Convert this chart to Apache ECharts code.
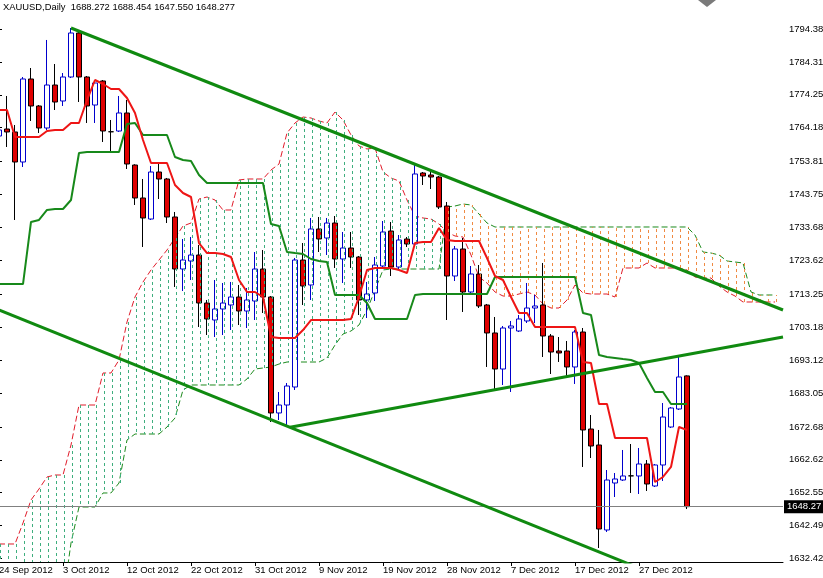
<!DOCTYPE html>
<html><head><meta charset="utf-8">
<script src="https://cdn.jsdelivr.net/npm/echarts@6/dist/echarts.min.js"></script>
<style>html,body{margin:0;padding:0;background:#fff}#c{width:823px;height:578px}</style>
</head><body><div id="c"></div>
<script>
const dates = ['24 Sep 2012','25 Sep 2012','26 Sep 2012','27 Sep 2012','28 Sep 2012','30 Sep 2012','1 Oct 2012','2 Oct 2012','3 Oct 2012','4 Oct 2012','5 Oct 2012','7 Oct 2012','8 Oct 2012','9 Oct 2012','10 Oct 2012','11 Oct 2012','12 Oct 2012','14 Oct 2012','15 Oct 2012','16 Oct 2012','17 Oct 2012','18 Oct 2012','19 Oct 2012','21 Oct 2012','22 Oct 2012','23 Oct 2012','24 Oct 2012','25 Oct 2012','26 Oct 2012','28 Oct 2012','29 Oct 2012','30 Oct 2012','31 Oct 2012','1 Nov 2012','2 Nov 2012','4 Nov 2012','5 Nov 2012','6 Nov 2012','7 Nov 2012','8 Nov 2012','9 Nov 2012','11 Nov 2012','12 Nov 2012','13 Nov 2012','14 Nov 2012','15 Nov 2012','16 Nov 2012','18 Nov 2012','19 Nov 2012','20 Nov 2012','21 Nov 2012','22 Nov 2012','23 Nov 2012','25 Nov 2012','26 Nov 2012','27 Nov 2012','28 Nov 2012','29 Nov 2012','30 Nov 2012','2 Dec 2012','3 Dec 2012','4 Dec 2012','5 Dec 2012','6 Dec 2012','7 Dec 2012','9 Dec 2012','10 Dec 2012','11 Dec 2012','12 Dec 2012','13 Dec 2012','14 Dec 2012','16 Dec 2012','17 Dec 2012','18 Dec 2012','19 Dec 2012','20 Dec 2012','21 Dec 2012','23 Dec 2012','24 Dec 2012','26 Dec 2012','27 Dec 2012','28 Dec 2012','30 Dec 2012','31 Dec 2012','1 Jan 2013','2 Jan 2013','3 Jan 2013'];
const futureSlots = ['','','','','','','','','','','',''];

const open  = [1761.65,1763.79,1762.88,1753.70,1779.09,1770.83,1764.10,1777.25,1772.36,1779.70,1793.16,1779.70,1771.13,1778.48,1762.95,1763.18,1768.69,1752.78,1742.69,1736.26,1750.64,1748.50,1736.88,1720.97,1723.42,1725.25,1710.57,1705.37,1708.74,1709.96,1712.41,1708.12,1711.18,1720.97,1712.41,1676.93,1679.37,1684.88,1723.72,1716.08,1733.21,1730.45,1735.04,1724.03,1727.39,1724.64,1711.49,1713.63,1721.89,1732.59,1721.58,1730.15,1728.62,1750.33,1749.72,1749.11,1740.24,1718.83,1727.09,1713.94,1719.44,1709.96,1701.40,1690.38,1702.92,1702.01,1705.07,1709.04,1709.96,1700.48,1695.89,1695.89,1691.00,1701.70,1672.03,1667.14,1641.14,1655.51,1656.43,1657.70,1657.66,1661.33,1654.60,1661.02,1672.64,1678.15,1688.272];
const high  = [1764.41,1773.89,1765.02,1779.70,1782.45,1771.13,1791.02,1783.67,1780.92,1794.69,1793.46,1780.00,1778.78,1778.78,1766.55,1773.89,1772.66,1753.00,1748.50,1752.48,1753.09,1748.81,1738.41,1730.15,1730.76,1728.31,1711.49,1717.61,1716.69,1717.00,1716.08,1715.16,1726.17,1726.78,1712.71,1683.35,1686.10,1724.34,1728.92,1736.57,1736.88,1736.57,1737.18,1732.29,1732.29,1724.95,1717.00,1724.64,1735.65,1735.35,1731.37,1730.76,1753.39,1750.64,1750.95,1749.42,1741.46,1728.01,1730.45,1721.89,1722.19,1710.27,1706.29,1703.54,1705.07,1706.90,1716.69,1713.02,1722.81,1701.09,1700.17,1698.95,1702.31,1702.92,1676.31,1671.73,1659.49,1658.57,1665.61,1667.44,1666.22,1662.55,1661.33,1679.98,1678.76,1694.36,1688.454];
const low   = [1760.73,1758.29,1735.96,1752.17,1766.24,1762.57,1763.49,1769.60,1770.83,1779.39,1772.05,1765.63,1765.63,1759.82,1756.45,1762.88,1751.56,1740.55,1727.70,1735.96,1742.38,1735.04,1715.47,1714.24,1717.61,1703.23,1700.78,1700.17,1700.78,1702.31,1703.84,1702.92,1705.37,1707.51,1674.17,1674.78,1672.64,1683.96,1709.96,1711.49,1726.17,1725.25,1721.28,1716.69,1721.28,1706.90,1705.98,1711.18,1721.58,1718.83,1720.67,1727.70,1728.31,1746.66,1745.44,1739.32,1705.37,1717.30,1707.82,1713.32,1709.04,1691.00,1684.27,1685.49,1683.35,1701.70,1704.45,1704.45,1694.05,1688.85,1692.53,1687.94,1685.80,1660.41,1663.16,1635.63,1640.53,1651.23,1656.13,1652.46,1652.15,1653.07,1654.29,1656.13,1672.34,1677.84,1647.550];
const close = [1763.49,1762.88,1753.70,1779.09,1770.83,1764.10,1777.25,1772.05,1779.70,1793.16,1779.70,1770.83,1777.86,1763.18,1762.95,1768.69,1753.09,1742.69,1736.57,1750.64,1748.50,1736.88,1720.97,1723.72,1725.25,1710.57,1705.68,1708.74,1710.57,1712.41,1708.12,1711.49,1720.97,1712.41,1676.93,1679.37,1685.18,1723.72,1715.77,1733.21,1730.15,1735.04,1724.03,1727.39,1724.64,1711.49,1713.32,1722.19,1732.29,1721.58,1729.84,1728.62,1750.03,1749.42,1749.11,1739.93,1718.83,1727.09,1713.94,1719.44,1709.65,1701.40,1690.38,1702.92,1703.54,1705.68,1709.04,1709.65,1700.48,1695.58,1695.28,1691.00,1701.70,1671.73,1666.83,1641.44,1656.43,1656.74,1657.66,1657.70,1661.33,1655.21,1661.02,1675.70,1678.45,1687.94,1648.277];

const tenkan = [1769.60,1769.60,1761.35,1761.35,1761.35,1761.35,1763.18,1763.49,1763.49,1765.63,1765.63,1772.66,1778.78,1777.56,1776.03,1776.03,1773.27,1768.69,1760.43,1753.39,1753.39,1753.39,1746.66,1744.22,1742.99,1728.92,1725.86,1725.86,1725.56,1724.64,1717.61,1713.94,1713.94,1712.41,1700.17,1699.87,1699.87,1699.87,1702.31,1705.37,1705.37,1705.37,1705.37,1705.37,1705.68,1712.41,1720.67,1721.28,1721.28,1721.28,1720.67,1719.75,1728.92,1729.23,1729.23,1733.51,1729.84,1729.54,1729.54,1729.54,1729.54,1724.34,1718.83,1717.61,1712.41,1707.51,1707.51,1703.23,1703.23,1703.23,1703.23,1703.23,1703.23,1692.52,1692.22,1679.68,1679.68,1669.28,1669.28,1669.28,1669.28,1669.28,1655.82,1657.35,1660.41,1672.64,1671.73];
const kijun = [1716.38,1716.38,1716.38,1716.38,1735.35,1735.96,1739.02,1739.32,1739.32,1742.08,1756.45,1756.76,1756.76,1756.76,1756.76,1756.76,1765.32,1765.63,1761.96,1761.96,1761.96,1761.96,1755.23,1754.31,1754.00,1749.72,1747.28,1747.28,1747.28,1747.28,1747.28,1747.28,1747.28,1747.28,1734.74,1734.12,1726.17,1725.86,1725.56,1724.03,1723.42,1723.11,1713.02,1713.02,1713.02,1713.02,1710.57,1705.68,1705.68,1705.68,1705.68,1705.68,1713.02,1713.32,1713.32,1713.32,1713.32,1713.32,1713.32,1713.32,1713.32,1713.32,1718.52,1718.52,1718.52,1718.52,1718.52,1718.52,1718.52,1718.52,1718.52,1718.52,1718.52,1707.51,1706.90,1694.67,1694.05,1693.75,1693.44,1693.14,1692.22,1687.63,1683.35,1683.35,1679.68,1679.68,1679.68];
const spanA = [1636.86,1636.86,1636.86,1643.28,1650.31,1653.68,1657.35,1657.96,1657.96,1667.14,1679.37,1679.37,1679.37,1689.16,1689.16,1693.14,1704.76,1712.41,1716.99,1720.67,1723.72,1726.78,1730.45,1734.12,1735.04,1742.38,1742.99,1742.08,1739.02,1739.02,1748.19,1748.50,1748.50,1748.50,1751.25,1753.09,1762.57,1765.63,1767.46,1767.16,1766.24,1765.63,1768.99,1766.55,1761.96,1758.59,1757.68,1757.98,1750.64,1748.81,1747.89,1742.08,1737.18,1736.57,1736.26,1734.74,1732.29,1731.06,1730.76,1725.25,1718.52,1716.69,1713.94,1712.71,1712.71,1713.32,1713.94,1713.02,1710.27,1709.04,1709.04,1711.49,1716.08,1713.63,1713.32,1713.32,1713.32,1712.41,1721.28,1721.28,1721.28,1722.81,1721.28,1721.28,1721.28,1721.28,1720.67,1718.52,1718.22,1718.22,1715.77,1713.94,1712.71,1710.88,1710.88,1710.88,1710.88,1710.88];
const spanB = [1619.73,1619.73,1619.73,1619.73,1619.73,1619.73,1619.73,1619.73,1619.73,1637.16,1648.17,1648.17,1648.17,1652.46,1652.46,1655.51,1668.67,1670.50,1670.50,1670.50,1670.50,1672.64,1675.40,1683.96,1685.49,1685.49,1685.49,1685.49,1685.49,1685.49,1685.49,1687.33,1690.38,1690.69,1691.00,1691.91,1692.52,1692.52,1692.52,1692.52,1692.52,1693.75,1697.72,1701.09,1702.01,1703.84,1708.43,1714.55,1720.67,1720.97,1720.97,1720.97,1720.97,1720.97,1720.97,1720.97,1739.93,1740.24,1740.85,1740.55,1737.79,1735.04,1733.82,1733.82,1733.82,1733.82,1733.82,1733.82,1733.82,1733.82,1733.82,1733.82,1733.82,1733.82,1733.82,1733.82,1733.82,1733.82,1733.82,1733.82,1733.82,1733.82,1733.82,1733.82,1733.82,1733.82,1733.82,1731.37,1726.17,1725.86,1725.25,1723.42,1723.11,1722.81,1713.94,1713.02,1713.02,1713.02];

const yTicks = [1632.42,1642.49,1652.55,1662.62,1672.68,1683.05,1693.12,1703.18,1713.25,1723.62,1733.68,1743.75,1753.81,1764.18,1774.25,1784.31,1794.38];
const trendUpper  = [[9, 1794.69], [98, 1708.43]];
const trendLower  = [[0, 1708.43], [80, 1629.50]];
const trendRising = [[36.375, 1672.55], [98, 1700.17]];
const lastPrice = 1648.277;
const lastPriceLabel = '1648.27';
const titleText = 'XAUUSD,Daily  1688.272 1688.454 1647.550 1648.277';

const FONT = 'Liberation Sans';
const categories = dates.concat(futureSlots);
const candleData = dates.map((d, i) => [open[i], close[i], low[i], high[i]]);
const cloudData = spanA.map((a, i) => [i, a, spanB[i]]);
const showIdx = (i) => i % 8 === 0 && i < dates.length;

const chart = echarts.init(document.getElementById('c'), null, {renderer: 'canvas'});
chart.setOption({
  animation: false,
  backgroundColor: '#fff',
  title: {text: titleText, left: 3, top: 3, padding: 0,
    textStyle: {fontSize: 9.4, fontWeight: 'normal', color: '#000', fontFamily: FONT}},
  grid: {left: -1, right: 40, top: 0, bottom: 16, containLabel: false, outerBoundsMode: 'none'},
  xAxis: [{
    type: 'category', data: categories, boundaryGap: false,
    axisLine: {show: true, lineStyle: {color: '#000', width: 1}},
    axisTick: {show: true, interval: showIdx, length: 4, lineStyle: {color: '#000'}},
    axisLabel: {interval: showIdx, align: 'left', margin: 3, color: '#000', fontSize: 9.5, fontFamily: FONT, hideOverlap: false},
    splitLine: {show: false}
  }, {
    type: 'value', min: 0, max: 98, show: false
  }],
  yAxis: {
    type: 'value', position: 'right', min: 1631.35, max: 1803.25,
    axisLine: {show: true, lineStyle: {color: '#000', width: 1}},
    axisTick: {show: true, length: 3, customValues: yTicks, lineStyle: {color: '#000'}},
    axisLabel: {customValues: yTicks, formatter: (v) => v.toFixed(2), margin: 6, color: '#000', fontSize: 9.5, fontFamily: FONT},
    splitLine: {show: false}
  },
  graphic: [{type: 'polygon', shape: {points: [[698, 0], [716, 0], [707, 7]]}, style: {fill: '#7a7a7a'}, z: 10}],
  series: [
    {type: 'line', name: 'Senkou A', data: spanA, symbol: 'none', z: 2, silent: true,
      lineStyle: {color: '#e01c2a', width: 1, type: [6, 3]}},
    {type: 'line', name: 'Senkou B', data: spanB, symbol: 'none', z: 2, silent: true,
      lineStyle: {color: '#1d8a1d', width: 1, type: [6, 3]}},
    {
      type: 'candlestick', name: 'XAUUSD', data: candleData, barWidth: 5, z: 3,
      itemStyle: {color: '#ffffff', color0: '#e00000', borderColor: '#0000cd', borderColor0: '#000000', borderColorDoji: '#000000', borderWidth: 1},
      markLine: {
        symbol: 'none', silent: true, animation: false,
        lineStyle: {color: '#808080', width: 1, type: 'solid'},
        label: {show: true, position: 'end', distance: 1, formatter: lastPriceLabel, color: '#fff', backgroundColor: '#000',
          padding: [2, 4, 1, 3], fontSize: 9.5, fontFamily: FONT},
        data: [{yAxis: lastPrice}]
      }
    },
    {
      type: 'custom', name: 'cloud', xAxisIndex: 0, data: cloudData, clip: true, z: 3.5, silent: true,
      encode: {x: 0, y: [1, 2]},
      renderItem: (params, api) => {
        const i = api.value(0), a = api.value(1), b = api.value(2);
        const p1 = api.coord([i, a]);
        const p2 = api.coord([i, b]);
        const x = Math.round(p1[0]) + 1.5;
        return {type: 'line', shape: {x1: x, y1: p1[1], x2: x, y2: p2[1]},
          style: {stroke: a >= b ? '#3fae7e' : '#f08a42', lineWidth: 1, lineDash: [3, 3]}};
      }
    },
    {type: 'line', name: 'Kijun', data: kijun, symbol: 'none', z: 4, silent: true,
      lineStyle: {color: '#17891a', width: 2}},
    {type: 'line', name: 'Tenkan', data: tenkan, symbol: 'none', z: 4, silent: true,
      lineStyle: {color: '#ee1515', width: 2}},
    {type: 'line', name: 'Trend upper', xAxisIndex: 1, data: trendUpper, symbol: 'none', z: 5, silent: true,
      lineStyle: {color: '#108a10', width: 3}},
    {type: 'line', name: 'Trend lower', xAxisIndex: 1, data: trendLower, symbol: 'none', z: 5, silent: true,
      lineStyle: {color: '#108a10', width: 3}},
    {type: 'line', name: 'Trend rising', xAxisIndex: 1, data: trendRising, symbol: 'none', z: 5, silent: true,
      lineStyle: {color: '#108a10', width: 3}}
  ]
});
</script>
</body></html>
